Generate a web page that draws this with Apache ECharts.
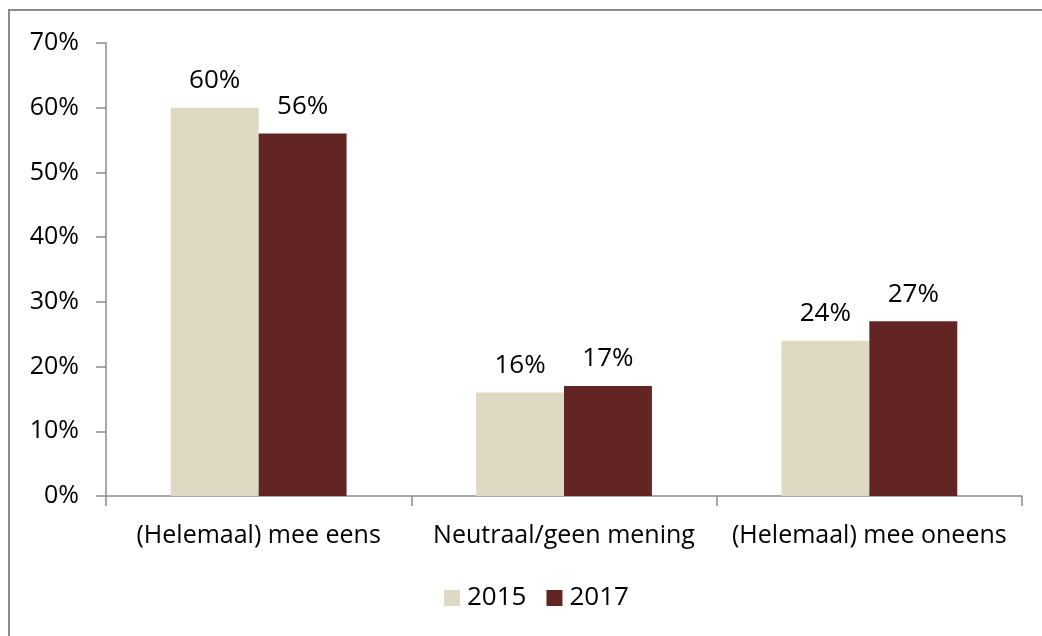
<!DOCTYPE html>
<html>
<head>
<meta charset="utf-8">
<script src="https://cdn.jsdelivr.net/npm/echarts@6/dist/echarts.min.js"></script>
<style>
  html, body { margin: 0; padding: 0; background: #fff; }
  #chart { width: 1042px; height: 636px; }
</style>
</head>
<body>
<div id="chart"></div>
<script>
// data
var categories = ["(Helemaal) mee eens", "Neutraal/geen mening", "(Helemaal) mee oneens"];
var values2015 = [60, 16, 24];
var values2017 = [56, 17, 27];
var seriesNames = ["2015", "2017"];

var fontFam = "'Open Sans', sans-serif";

var myChart = echarts.init(document.getElementById('chart'));

var labelOpt = {
	show: true,
	position: 'top',
	distance: 14,
	formatter: '{c}%',
	color: '#000',
	fontSize: 26,
	fontFamily: fontFam
};

var option = {
	animation: false,
	backgroundColor: '#fff',
	graphic: [{
		type: 'rect',
		shape: { x: 9, y: 10, width: 1100, height: 700 },
		style: { fill: 'none', stroke: '#8c8c8c', lineWidth: 2 },
		z: -1
	}],
	grid: {
		left: 106,
		right: 20,
		top: 43,
		bottom: 140
	},
	legend: {
		data: seriesNames,
		top: 580,
		left: 439,
		itemWidth: 16,
		itemHeight: 16,
		itemGap: 20,
		icon: 'rect',
		textStyle: { fontSize: 26, fontFamily: fontFam, color: '#000', padding: [0, 0, 0, 2] }
	},
	xAxis: {
		type: 'category',
		data: categories,
		axisLine: { lineStyle: { color: '#8c8c8c', width: 1.5 } },
		axisTick: { show: true, length: 10, lineStyle: { color: '#8c8c8c', width: 1.5 } },
		axisLabel: { interval: 0, hideOverlap: false, fontSize: 25, fontFamily: fontFam, color: '#000', margin: 27 }
	},
	yAxis: {
		type: 'value',
		min: 0,
		max: 70,
		interval: 10,
		splitLine: { show: false },
		axisLine: { show: true, lineStyle: { color: '#8c8c8c', width: 1.5 } },
		axisTick: { show: true, length: 10, lineStyle: { color: '#8c8c8c', width: 1.5 } },
		axisLabel: { formatter: '{value}%', fontSize: 25, fontFamily: fontFam, color: '#000', margin: 27 }
	},
	series: [
		{
			name: seriesNames[0],
			type: 'bar',
			data: values2015,
			barWidth: '28.8%',
			barGap: '0%',
			itemStyle: { color: '#ddd9c3' },
			label: labelOpt
		},
		{
			name: seriesNames[1],
			type: 'bar',
			data: values2017,
			barWidth: '28.8%',
			itemStyle: { color: '#632523' },
			label: labelOpt
		}
	]
};

myChart.setOption(option);
</script>
</body>
</html>
